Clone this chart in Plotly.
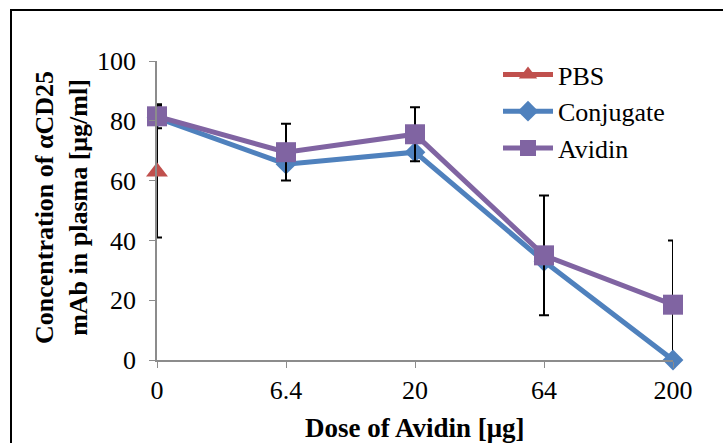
import plotly.graph_objects as go

categories = ["0", "6.4", "20", "64", "200"]
x_pos = [0, 1, 2, 3, 4]

pbs_y = [63]
pbs_err = [22]

conj_y = [81, 65.5, 69.5, 33, 0]
conj_err_plus = [0, 0, 0, 0, 40]
conj_err_minus = [0, 0, 0, 0, 0]

avidin_y = [81.5, 69.5, 75.5, 35, 18.5]
avidin_err_plus = [4, 9.5, 9, 20, 0]
avidin_err_minus = [4, 9.5, 9, 20, 0]

y_ticks = [0, 20, 40, 60, 80, 100]

FONT = "Liberation Serif"
ERR = dict(color="black", thickness=2, width=5)

fig = go.Figure()

fig.add_trace(go.Scatter(
    x=x_pos[:1], y=pbs_y, name="PBS", mode="lines+markers",
    line=dict(color="#C0504D", width=5),
    marker=dict(symbol="triangle-up", size=19, color="#C0504D"),
    error_y=dict(type="data", array=pbs_err, **ERR),
    cliponaxis=False,
))
fig.add_trace(go.Scatter(
    x=x_pos, y=conj_y, name="Conjugate", mode="lines+markers",
    line=dict(color="#4F81BD", width=5),
    marker=dict(symbol="diamond", size=16, color="#4F81BD"),
    error_y=dict(type="data", array=conj_err_plus, arrayminus=conj_err_minus, **ERR),
    cliponaxis=False,
))
fig.add_trace(go.Scatter(
    x=x_pos, y=avidin_y, name="Avidin", mode="lines+markers",
    line=dict(color="#8064A2", width=5),
    marker=dict(symbol="square", size=20, color="#8064A2"),
    error_y=dict(type="data", array=avidin_err_plus, arrayminus=avidin_err_minus, **ERR),
    cliponaxis=False,
))

fig.update_layout(
    width=723, height=443,
    margin=dict(l=157, r=50, t=61, b=83),
    paper_bgcolor="white", plot_bgcolor="white",
    font=dict(family=FONT, size=26, color="black"),
    showlegend=True,
    legend=dict(x=(498 - 157) / 516, y=(360 - 51) / 299, xanchor="left", yanchor="top",
                font=dict(family=FONT, size=26), bgcolor="rgba(0,0,0,0)",
                tracegroupgap=0, itemwidth=50),
    xaxis=dict(range=[0, 4], tickvals=x_pos, ticktext=categories,
               showgrid=False, zeroline=False, showline=True, linecolor="#8c8c8c",
               linewidth=1.5, ticks="outside", ticklen=6, tickcolor="#8c8c8c",
               tickfont=dict(family=FONT, size=26)),
    yaxis=dict(range=[0, 100], tickvals=y_ticks, showgrid=False, zeroline=False,
               showline=True, linecolor="#8c8c8c", linewidth=1.5,
               ticks="outside", ticklen=6, tickcolor="#8c8c8c",
               ticklabelstandoff=8,
               tickfont=dict(family=FONT, size=26)),
    annotations=[
        dict(text="<b>Concentration of αCD25<br>mAb in plasma [μg/ml]</b>",
             xref="paper", yref="paper", x=(61 - 157) / 516, y=(360 - 208) / 299,
             xanchor="center", yanchor="middle", textangle=-90, showarrow=False,
             font=dict(family=FONT, size=26)),
        dict(text="<b>Dose of Avidin [μg]</b>",
             xref="paper", yref="paper", x=0.5, y=(360 - 428) / 299,
             xanchor="center", yanchor="middle", showarrow=False,
             font=dict(family=FONT, size=27)),
    ],
    shapes=[
        dict(type="rect", xref="paper", yref="paper",
             x0=(11 - 157) / 516, x1=1.3, y0=-0.6, y1=(360 - 10) / 299,
             line=dict(color="black", width=2), layer="below"),
    ],
)

fig.write_html("out.html")
